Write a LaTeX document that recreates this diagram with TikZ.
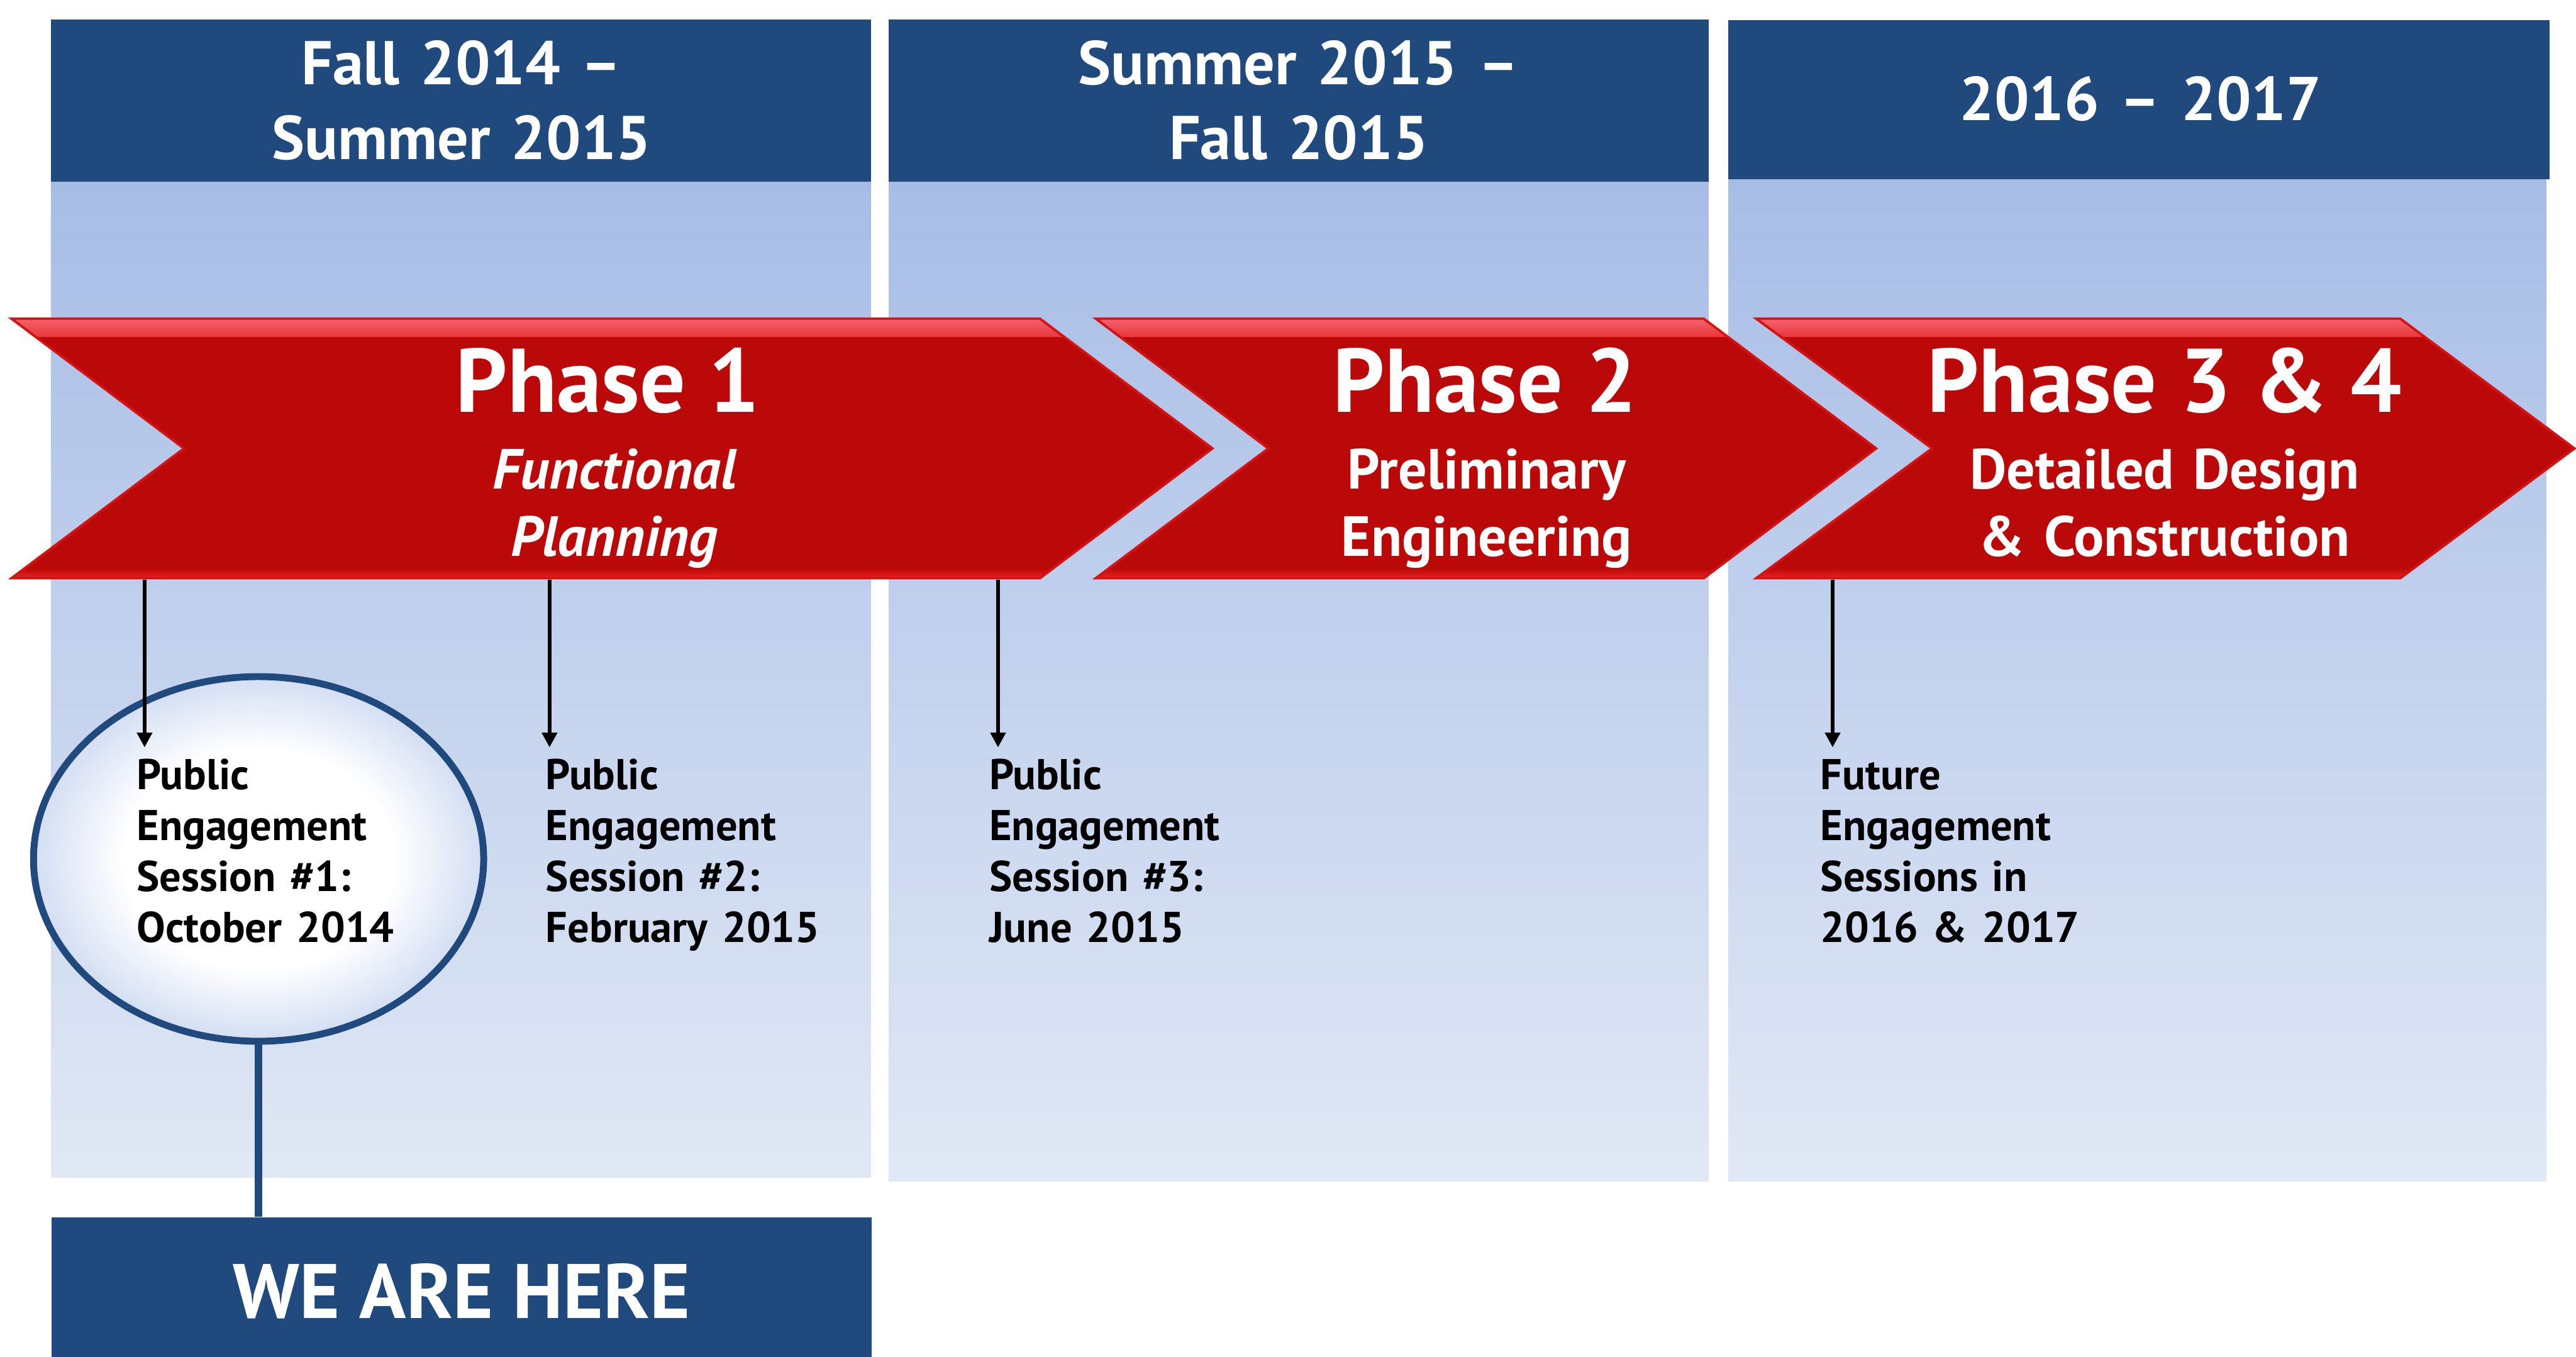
\documentclass[tikz,border=0pt]{standalone}
\usepackage{fontspec}
\setmainfont{PT Sans}
\usetikzlibrary{arrows.meta,shapes.geometric}

\definecolor{hdrblue}{HTML}{204A7E}
\definecolor{bandtop}{HTML}{A7BDE6}
\definecolor{bandbot}{HTML}{E1E8F5}
\definecolor{phred}{HTML}{BB0909}
\definecolor{phbright}{HTML}{E82222}
\definecolor{phpink}{HTML}{F26470}
\definecolor{phrim}{HTML}{D41414}
\definecolor{bubbleedge}{HTML}{D3DEF3}

\pgfdeclareradialshading{bubble}{\pgfpointorigin}{color(0bp)=(white); color(15bp)=(white); color(25bp)=(bubbleedge); color(50bp)=(bubbleedge)}
\pgfdeclareverticalshading{redtop}{100bp}{color(0bp)=(phred); color(25bp)=(phred); color(55bp)=(phbright); color(70bp)=(phbright); color(75bp)=(phpink); color(100bp)=(phpink)}
\pgfdeclareverticalshading{redbot}{100bp}{color(0bp)=(phbright); color(25bp)=(phbright); color(75bp)=(phred); color(100bp)=(phred)}

\begin{document}
\begin{tikzpicture}[x=1pt,y=-1pt,
  band/.style={top color=bandtop,bottom color=bandbot},
  hdrbox/.style={fill=hdrblue,draw=none,inner sep=0pt},
  hdrtext/.style={text=white,font=\bfseries\fontsize{37.6}{45.6}\selectfont,
    align=center,text width=480pt,inner sep=0pt,anchor=base},
  chevron/.style={fill=phred,draw=phrim,line width=1.5pt,line join=miter,
    path picture={
      \shade[shading=redtop] (path picture bounding box.north west)
        rectangle ([yshift=-11pt]path picture bounding box.north east);
      \shade[shading=redbot] ([yshift=6pt]path picture bounding box.south west)
        rectangle (path picture bounding box.south east);}},
  phtitle/.style={text=white,font=\bfseries\fontsize{55}{60}\selectfont,
    inner sep=0pt,anchor=base},
  phsub/.style={text=white,font=\bfseries\fontsize{34.5}{41}\selectfont,
    align=center,text width=330pt,inner sep=0pt,anchor=base},
  evtext/.style={font=\bfseries\fontsize{26.2}{31}\selectfont,align=left,
    text width=230pt,inner sep=0pt,anchor=base west},
  tick/.style={draw=black,line width=2.4pt,
    -{Triangle[length=9pt,width=9pt]}},
]
\useasboundingbox (0,0) rectangle (1568,826);

% light period columns
\shade[band] (31,110) rectangle (530,717);
\shade[band] (541,110) rectangle (1040,719);
\shade[band] (1052,109) rectangle (1550,719);

% period headers
\node[hdrbox,minimum width=499pt,minimum height=98.6pt] (hA) at (280.5,61.3) {};
\node[hdrbox,minimum width=499pt,minimum height=98.6pt] (hB) at (790.5,61.3) {};
\node[hdrbox,minimum width=500pt,minimum height=96.6pt] (hC) at (1302,60.7) {};
\node[hdrtext] (hAt) at (281,51.6) {Fall 2014 –\\Summer 2015};
\node[hdrtext] (hBt) at (790.5,51.6) {Summer 2015 –\\Fall 2015};
\node[hdrtext] (hCt) at (1302.8,73.5) {2016 – 2017};

% phase chevrons
\path[chevron] (7,194) -- (633,194) -- (738,273) -- (633,352) -- (7,352) -- (112,273) -- cycle;
\path[chevron] (667,194) -- (1037,194) -- (1142,273) -- (1037,352) -- (667,352) -- (772,273) -- cycle;
\path[chevron] (1069,194) -- (1461,194) -- (1567,273) -- (1461,352) -- (1069,352) -- (1176,273) -- cycle;

\node[phtitle] (p1) at (370,251) {Phase 1};
\node[phsub] (p1s) at (374,297.5) {\itshape Functional\\\itshape Planning};
\node[phtitle] (p2) at (904,251) {Phase 2};
\node[phsub] (p2s) at (905,297.5) {Preliminary\\Engineering};
\node[phtitle] (p3) at (1317.5,251) {Phase 3 \& 4};
\node[phsub] (p3s) at (1317.5,297.5) {Detailed Design\\\& Construction};

% current-stage bubble
\node[ellipse,draw=hdrblue,line width=4.2pt,shade,shading=bubble,
  minimum width=274pt,minimum height=222pt,inner sep=0pt] (bubble) at (157.4,522.9) {};

% engagement sessions
\node[evtext] (e1) at (83,480.7) {Public\\Engagement\\Session \#1:\\October 2014};
\node[evtext] (e2) at (332,480.7) {Public\\Engagement\\Session \#2:\\February 2015};
\node[evtext] (e3) at (602,480.7) {Public\\Engagement\\Session \#3:\\June 2015};
\node[evtext] (e4) at (1108,480.7) {Future\\Engagement\\Sessions in\\2016 \& 2017};

\coordinate (k1a) at (88,353);    \coordinate (k1b) at (88,455);
\coordinate (k2a) at (334.5,353); \coordinate (k2b) at (334.5,455);
\coordinate (k3a) at (607.5,353); \coordinate (k3b) at (607.5,455);
\coordinate (k4a) at (1115.5,353);\coordinate (k4b) at (1115.5,455);
\draw[tick] (k1a) -- (k1b);
\draw[tick] (k2a) -- (k2b);
\draw[tick] (k3a) -- (k3b);
\draw[tick] (k4a) -- (k4b);

% marker box
\node[hdrbox,minimum width=499pt,minimum height=85pt,text=white,
  font=\bfseries\fontsize{47}{47}\selectfont,text height=38.5pt,text depth=0pt] (here) at (281,783.5) {WE ARE HERE};
\draw[hdrblue,line width=4.8pt] (bubble.south) -- (bubble.south |- here.north);
\end{tikzpicture}
\end{document}
